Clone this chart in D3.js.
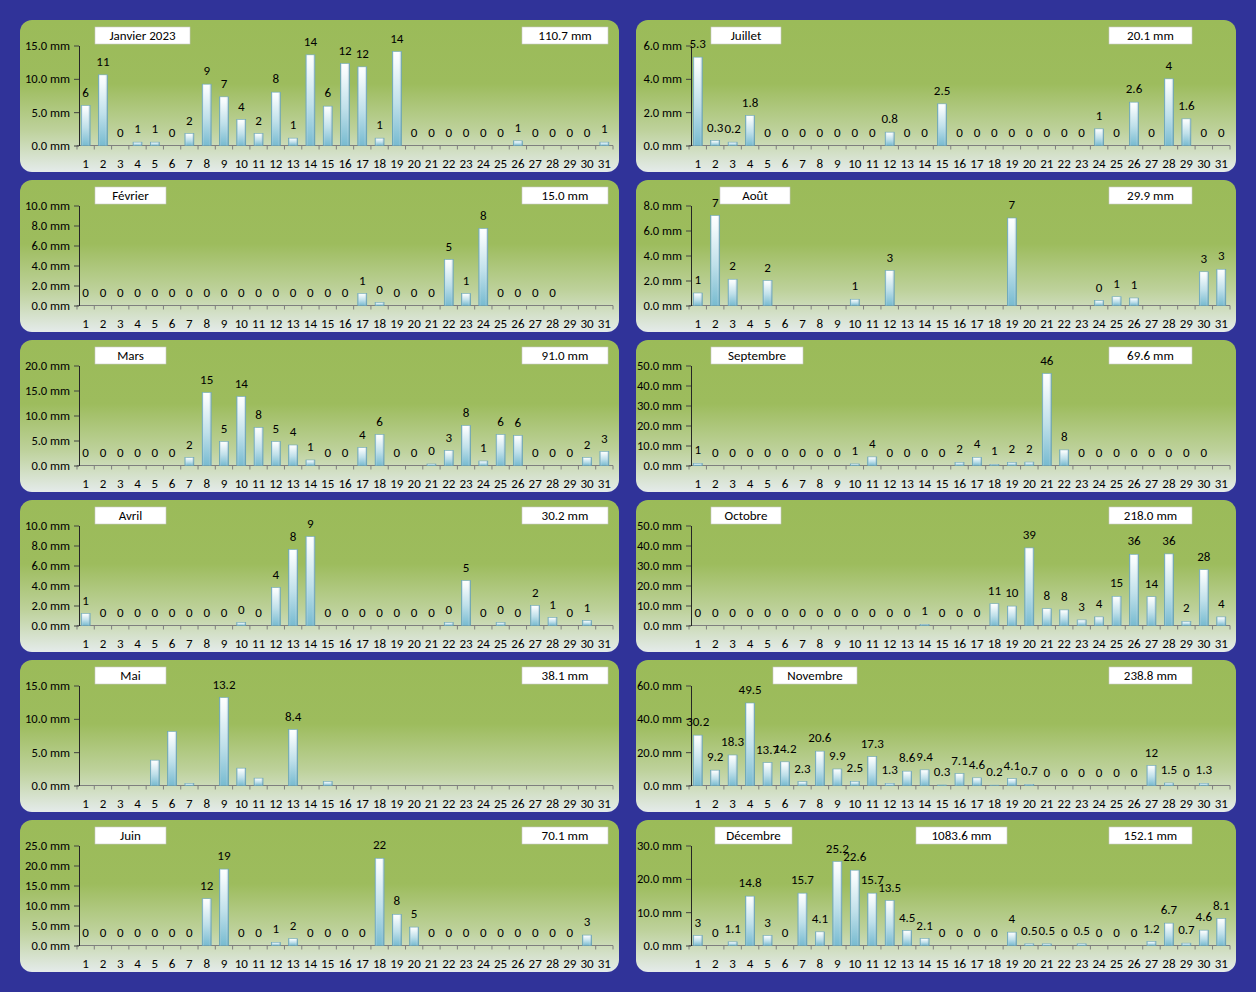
<!DOCTYPE html>
<html><head><meta charset="utf-8">
<script src="https://cdn.jsdelivr.net/npm/d3@7"></script>
<style>body{margin:0;background:#303399;} svg{display:block}</style>
</head><body><svg id="c" width="1256" height="992"></svg>
<script>
// ---------- DATA ----------
const monthNames = ["Janvier 2023","Février","Mars","Avril","Mai","Juin","Juillet","Août","Septembre","Octobre","Novembre","Décembre"];
const days = d3.range(1, 32);
const rainJan = [6.0,10.6,0,0.5,0.5,0,1.8,9.2,7.3,3.9,1.8,8.0,1.1,13.6,5.9,12.3,11.8,1.1,14.1,0,0,0,0,0,0,0.7,0,0,0,0,0.5];
const rainFeb = [0,0,0,0,0,0,0,0,0,0,0,0,0,0,0,0,1.2,0.3,0,0,0,4.6,1.2,7.7,0,0,0,0,null,null,null];
const rainMar = [0,0,0,0,0,0,1.6,14.6,4.8,13.8,7.6,4.8,4.1,1.1,0,0,3.6,6.2,0,0,0.3,3.0,8.0,0.9,6.2,6.0,0,0,0,1.6,2.8];
const rainApr = [1.2,0,0,0,0,0,0,0,0,0.3,0,3.8,7.6,8.9,0,0,0,0,0,0,0,0.3,4.5,0,0.3,0,2.0,0.8,0,0.5,null];
const rainMai = [null,null,null,null,3.8,8.1,0.3,null,13.2,2.6,1.1,null,8.4,null,0.6,null,null,null,null,null,null,null,null,null,null,null,null,null,null,null,null];
const rainJun = [0,0,0,0,0,0,0,11.7,19.1,0,0,0.8,1.7,0,0,0,0,21.8,7.8,4.6,0,0,0,0,0,0,0,0,0,2.6,null];
const rainJul = [5.3,0.3,0.2,1.8,0,0,0,0,0,0,0,0.8,0,0,2.5,0,0,0,0,0,0,0,0,1,0,2.6,0,4,1.6,0,0];
const rainAug = [1.0,7.2,2.1,null,2.0,null,null,null,null,0.5,null,2.8,null,null,null,null,null,null,7.0,null,null,null,null,0.4,0.7,0.6,null,null,null,2.7,2.9];
const rainSep = [1.1,0,0,0,0,0,0,0,0,0.8,4.3,0,0,0,0,1.6,4.1,0.6,1.6,1.7,46.0,7.8,0,0,0,0,0,0,0,0,null];
const rainOct = [0,0,0,0,0,0,0,0,0,0,0,0,0,0.6,0,0,0,10.9,9.7,38.8,8.4,7.8,2.8,4.3,14.6,35.6,14.4,35.8,2.1,27.9,4.3];
const rainNov = [30.2,9.2,18.3,49.5,13.7,14.2,2.3,20.6,9.9,2.5,17.3,1.3,8.6,9.4,0.3,7.1,4.6,0.2,4.1,0.7,0,0,0,0,0,0,12,1.5,0,1.3,null];
const rainDec = [3,0,1.1,14.8,3,0,15.7,4.1,25.2,22.6,15.7,13.5,4.5,2.1,0,0,0,0,4,0.5,0.5,0,0.5,0,0,0,1.2,6.7,0.7,4.6,8.1];
const monthlyTotals = ["110.7 mm","15.0 mm","91.0 mm","30.2 mm","38.1 mm","70.1 mm","20.1 mm","29.9 mm","69.6 mm","218.0 mm","238.8 mm","152.1 mm"];
const annualTotal = "1083.6 mm";
const yMax  = [15,10,20,10,15,25,6,8,50,50,60,30];
const yStep = [5,2,5,2,5,5,2,2,10,10,20,10];
// label format: 0 = integer, null = general
const labelDecimals = [0,0,0,0,null,0,null,0,0,0,null,null];
// days with a data label (null = all days with a value)
const labelledDays = [null,null,null,null,[9,13],null,null,null,null,null,null,null];

const allRain = [rainJan,rainFeb,rainMar,rainApr,rainMai,rainJun,rainJul,rainAug,rainSep,rainOct,rainNov,rainDec];

// ---------- LAYOUT ----------
const titleBoxX = [95,95,95,95,95,95,711,720,711,711,773,715];
const titleBoxW = [95,71,71,71,71,71,70,70,92,70,84,77];
const FONT = "Carlito, Calibri, Lato, sans-serif";

const svg = d3.select("#c");
svg.append("rect").attr("width",1256).attr("height",992).attr("fill","#303399");
const defs = svg.append("defs");
function grad(id, vertical, stops){
  const g = defs.append("linearGradient").attr("id",id)
    .attr("x1",0).attr("y1",0).attr("x2",vertical?0:1).attr("y2",vertical?1:0);
  stops.forEach(s=>g.append("stop").attr("offset",s[0]).attr("stop-color",s[1]).attr("stop-opacity",s[2]==null?1:s[2]));
}
grad("pg", true, [[0,"#9bbb59"],[0.42,"#9dbc5d"],[0.72,"#bdd19a"],[1,"#e4ebea"]]);
grad("bg", true, [[0,"#ffffff"],[0.12,"#f4fafc"],[0.55,"#bfe0ea"],[1,"#78bbd0"]]);
grad("bs", false, [[0,"#4f93ad",0.75],[0.22,"#ffffff",0],[0.7,"#ffffff",0],[1,"#3f7f9a",0.6]]);

allRain.forEach((vals, i) => {
  const col = i < 6 ? 0 : 1, row = i % 6;
  const top = 20 + row * 160;
  const px = col ? 636 : 20, pw = col ? 600 : 599;
  const g = svg.append("g");
  g.append("rect").attr("x",px).attr("y",top).attr("width",pw).attr("height",152)
    .attr("rx",12).attr("fill","url(#pg)");

  const xr = col ? [689,1230] : [77,613];
  const x = d3.scaleBand().domain(days).range(xr).paddingInner(0.48).paddingOuter(0.24);
  const y = d3.scaleLinear().domain([0, yMax[i]]).range([top+125.5, top+25.5]);
  const axisX = xr[0] + 2;
  const bw = x.bandwidth();

  // x axis line + ticks
  g.append("line").attr("x1",xr[0]).attr("x2",xr[1]).attr("y1",y(0)).attr("y2",y(0))
    .attr("stroke","#7f7f7f").attr("stroke-width",1);
  const bounds = days.map(d => x(d) - x.step()*x.paddingInner()/2).concat([xr[1]]);
  g.selectAll(null).data(bounds).join("line")
    .attr("x1",d=>d).attr("x2",d=>d).attr("y1",y(0)).attr("y2",y(0)+4)
    .attr("stroke","#7f7f7f").attr("stroke-width",1);
  const xa = g.append("g").attr("transform",`translate(0,${y(0)})`)
    .call(d3.axisBottom(x).tickSize(0).tickPadding(13).tickFormat(String));
  xa.select(".domain").remove();
  xa.selectAll("text").attr("font-family",FONT).attr("font-size",13).attr("fill","#000");

  // bars
  const data = days.map((d,k)=>({d, v: vals[k]})).filter(o => o.v != null);
  const bars = g.append("g");
  bars.selectAll(null).data(data.filter(o=>o.v>0)).join("rect")
    .attr("x",o=>x(o.d)).attr("width",bw)
    .attr("y",o=>y(o.v)).attr("height",o=>y(0)-y(o.v))
    .attr("fill","url(#bg)").attr("stroke","#6aa7bb").attr("stroke-width",0.6);
  bars.selectAll(null).data(data.filter(o=>o.v>0)).join("rect")
    .attr("x",o=>x(o.d)).attr("width",bw)
    .attr("y",o=>y(o.v)).attr("height",o=>y(0)-y(o.v))
    .attr("fill","url(#bs)");

  // y axis
  const ticks = d3.range(0, yMax[i] + 1e-9, yStep[i]);
  const ya = g.append("g").attr("transform",`translate(${axisX},0)`)
    .call(d3.axisLeft(y).tickValues(ticks).tickSize(5).tickSizeOuter(0).tickPadding(4)
      .tickFormat(v => d3.format(".1f")(v) + " mm"));
  ya.select(".domain").attr("stroke","#262626");
  ya.selectAll(".tick line").attr("stroke","#404040");
  ya.selectAll("text").attr("font-family",FONT).attr("font-size",12.5).attr("fill","#000");

  // value labels
  const fmt = labelDecimals[i] == null ? (v => String(v)) : d3.format("." + labelDecimals[i] + "f");
  const ld = labelledDays[i];
  g.selectAll(null).data(data.filter(o => !ld || ld.includes(o.d))).join("text")
    .attr("x",o=>x(o.d)+bw/2).attr("y",o=>y(o.v)-9)
    .attr("text-anchor","middle").attr("font-family",FONT).attr("font-size",13).attr("fill","#000")
    .text(o=>fmt(o.v));

  // title box
  g.append("rect").attr("x",titleBoxX[i]).attr("y",top+7).attr("width",titleBoxW[i]).attr("height",17)
    .attr("fill","#fff").attr("stroke","#c8c8c8").attr("stroke-width",0.6);
  g.append("text").attr("x",titleBoxX[i]+titleBoxW[i]/2).attr("y",top+20)
    .attr("text-anchor","middle").attr("font-family",FONT).attr("font-size",13).text(monthNames[i]);

  // total box
  const tx = col ? 1109 : 522, tw = col ? 83 : 86;
  g.append("rect").attr("x",tx).attr("y",top+7).attr("width",tw).attr("height",17)
    .attr("fill","#fff").attr("stroke","#c8c8c8").attr("stroke-width",0.6);
  g.append("text").attr("x",tx+tw/2).attr("y",top+20)
    .attr("text-anchor","middle").attr("font-family",FONT).attr("font-size",13).text(monthlyTotals[i]);

  if (i === 11) {
    g.append("rect").attr("x",916).attr("y",top+7).attr("width",91).attr("height",17)
      .attr("fill","#fff").attr("stroke","#c8c8c8").attr("stroke-width",0.6);
    g.append("text").attr("x",961.5).attr("y",top+20)
      .attr("text-anchor","middle").attr("font-family",FONT).attr("font-size",13).text(annualTotal);
  }
});
</script>
</body></html>
